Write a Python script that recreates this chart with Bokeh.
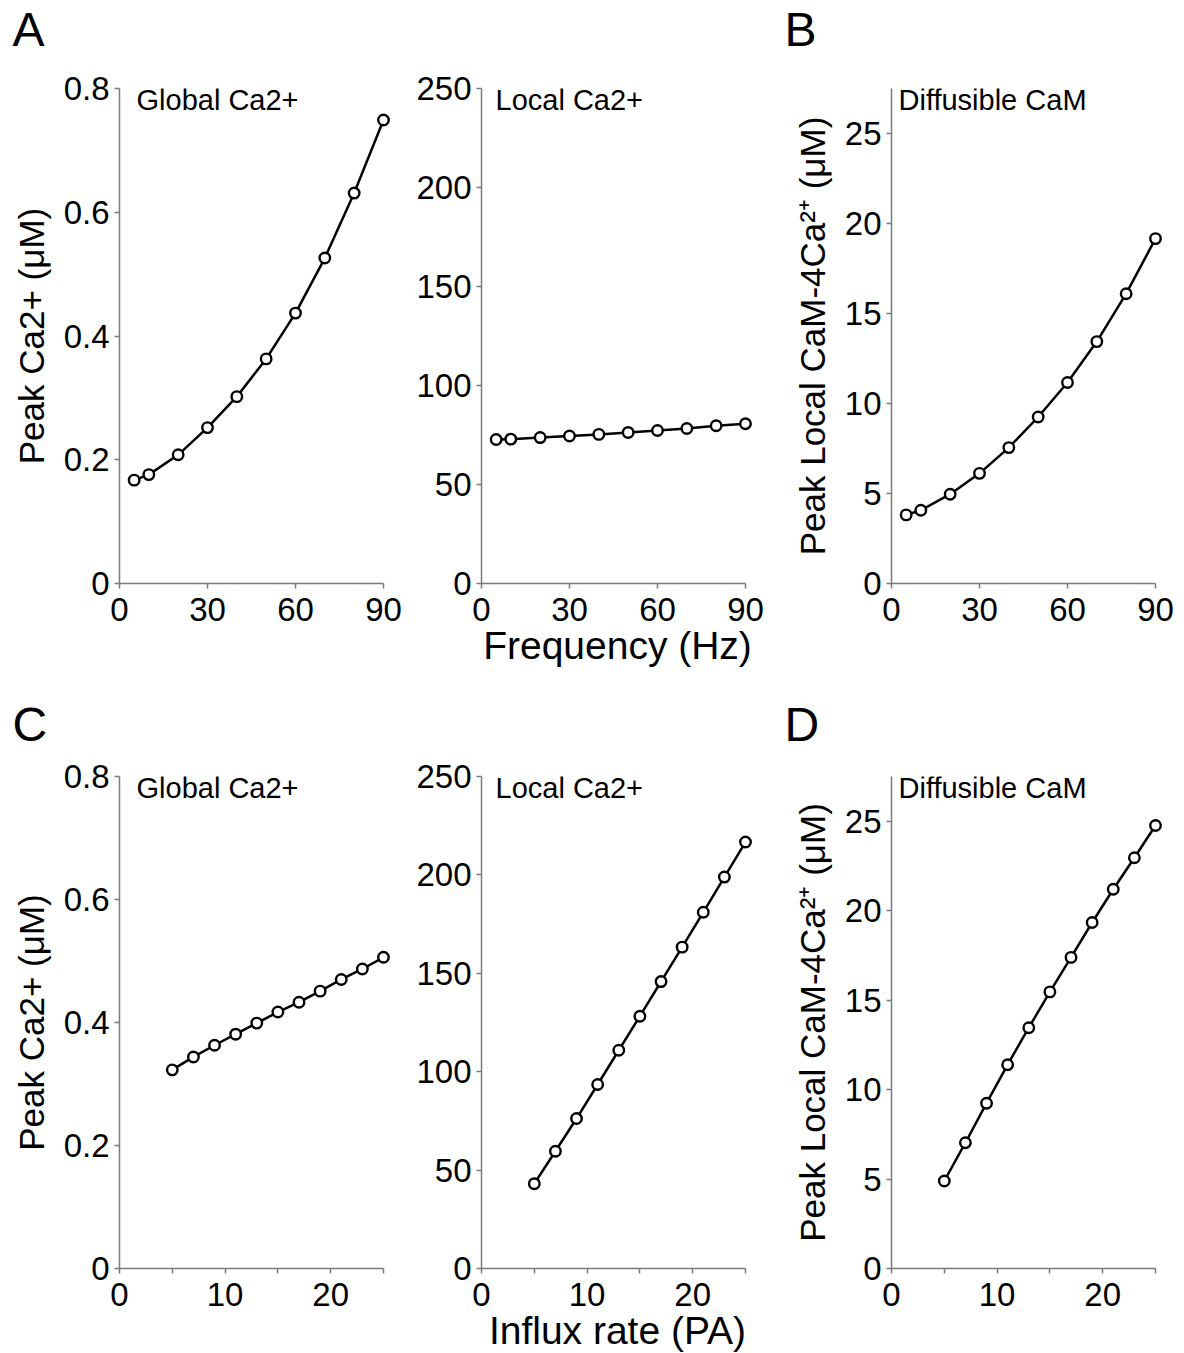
from bokeh.plotting import figure
from bokeh.layouts import gridplot
from bokeh.models import Range1d, FixedTicker, Label
from bokeh.embed import file_html
from bokeh.resources import INLINE

# ---------------- data ----------------
freq = [5, 10, 20, 30, 40, 50, 60, 70, 80, 90]
freq_global_ca = [0.167, 0.176, 0.208, 0.252, 0.302, 0.363, 0.437, 0.526, 0.631, 0.749]
freq_local_ca = [72.7, 72.9, 73.7, 74.5, 75.3, 76.3, 77.3, 78.3, 79.7, 80.7]
freq_cam = [3.81, 4.07, 4.96, 6.12, 7.55, 9.25, 11.17, 13.44, 16.1, 19.16]

influx = [5, 7, 9, 11, 13, 15, 17, 19, 21, 23, 25]
influx_global_ca = [0.323, 0.344, 0.363, 0.381, 0.399, 0.417, 0.433, 0.451, 0.470, 0.487, 0.506]
influx_local_ca = [43.1, 59.6, 76.2, 93.5, 110.9, 128.2, 145.8, 163.3, 181.0, 198.9, 216.7]
influx_cam = [4.89, 7.03, 9.24, 11.39, 13.46, 15.46, 17.39, 19.34, 21.2, 22.96, 24.76]

freq_ticks = [0, 30, 60, 90]
freq_tick_labels = ["0", "30", "60", "90"]
influx_ticks = [0, 5, 10, 15, 20, 25]
influx_tick_labels = ["0", "", "10", "", "20", ""]
global_ticks = [0, 0.2, 0.4, 0.6, 0.8]
global_tick_labels = ["0", "0.2", "0.4", "0.6", "0.8"]
local_ticks = [0, 50, 100, 150, 200, 250]
local_tick_labels = ["0", "50", "100", "150", "200", "250"]
cam_ticks = [0, 5, 10, 15, 20, 25]
cam_tick_labels = ["0", "5", "10", "15", "20", "25"]

global_ymax = 0.8
local_ymax = 250
cam_ymax = 27.5

ylabel_global = "Peak Ca2+ (\u03bcM)"
ylabel_cam = "Peak Local CaM-4Ca\u00b2\u207a (\u03bcM)"
xlabel_freq = "Frequency (Hz)"
xlabel_influx = "Influx rate (PA)"

FONT = "Liberation Sans"
AXIS_COLOR = "#7a7a7a"
FRAME_W = 272
AXIS_W = 264


def panel(x, y, xticks, xtlabels, xmax, yticks, ytlabels, ymax,
          xlabel, ylabel, title, letter, col, row):
    borders_lr = {0: (119, 14), 1: (76, 17), 2: (121, 21)}[col]
    if row == 0:
        fh, bt, bb = 495, 88, 100
        title_y, letter_y = 99, 29
    else:
        fh, bt, bb = 492, 93, 85
        title_y, letter_y = 104, 41
    p = figure(frame_width=FRAME_W, frame_height=fh,
               min_border_left=borders_lr[0], min_border_right=borders_lr[1],
               min_border_top=bt, min_border_bottom=bb,
               x_range=Range1d(0, xmax * FRAME_W / AXIS_W),
               y_range=Range1d(0, ymax),
               output_backend="svg", toolbar_location=None,
               background_fill_color="white", border_fill_color="white")
    p.outline_line_color = None
    p.xgrid.visible = False
    p.ygrid.visible = False

    p.xaxis.ticker = FixedTicker(ticks=xticks)
    p.xaxis.major_label_overrides = {t: l for t, l in zip(xticks, xtlabels)}
    p.xaxis.bounds = (0, xmax)
    p.yaxis.ticker = FixedTicker(ticks=yticks)
    p.yaxis.major_label_overrides = {t: l for t, l in zip(yticks, ytlabels)}

    for ax in (p.xaxis[0], p.yaxis[0]):
        ax.axis_line_color = AXIS_COLOR
        ax.axis_line_width = 1.5
        ax.major_tick_line_color = AXIS_COLOR
        ax.major_tick_line_width = 1.5
        ax.major_tick_out = 5
        ax.major_tick_in = 0
        ax.minor_tick_line_color = None
        ax.major_label_text_font = FONT
        ax.major_label_text_font_size = "33px"
        ax.major_label_text_color = "black"
        ax.axis_label_text_font = FONT
        ax.axis_label_text_font_style = "normal"
        ax.axis_label_text_color = "black"

    p.xaxis.major_label_standoff = 9
    p.yaxis.major_label_standoff = 5
    if xlabel:
        p.xaxis.axis_label = xlabel
        p.xaxis.axis_label_text_font_size = "39px"
        p.xaxis.axis_label_standoff = 0
    if ylabel:
        p.yaxis.axis_label = ylabel
        p.yaxis.axis_label_text_font_size = "35px"
        p.yaxis.axis_label_standoff = 10

    p.line(x, y, line_color="black", line_width=2.5)
    p.scatter(x, y, marker="circle", size=10.5, fill_color="white",
              line_color="black", line_width=2.4)

    title_x = {0: 136, 1: 90, 2: 128}[col]
    p.add_layout(Label(x=title_x, y=title_y, x_units="canvas", y_units="canvas",
                       text=title, text_font=FONT, text_font_size="29px",
                       text_color="black", text_baseline="alphabetic"))
    if letter:
        letter_x = {0: 12, 2: 14}[col]
        p.add_layout(Label(x=letter_x, y=letter_y, x_units="canvas", y_units="canvas",
                           text=letter, text_font=FONT, text_font_size="48px",
                           text_color="black", text_baseline="alphabetic"),
                     "above")
    return p


pA1 = panel(freq, freq_global_ca, freq_ticks, freq_tick_labels, 90,
            global_ticks, global_tick_labels, global_ymax,
            None, ylabel_global, "Global Ca2+", "A", 0, 0)
pA2 = panel(freq, freq_local_ca, freq_ticks, freq_tick_labels, 90,
            local_ticks, local_tick_labels, local_ymax,
            xlabel_freq, None, "Local Ca2+", None, 1, 0)
pB = panel(freq, freq_cam, freq_ticks, freq_tick_labels, 90,
           cam_ticks, cam_tick_labels, cam_ymax,
           None, ylabel_cam, "Diffusible CaM", "B", 2, 0)
pC1 = panel(influx, influx_global_ca, influx_ticks, influx_tick_labels, 25,
            global_ticks, global_tick_labels, global_ymax,
            None, ylabel_global, "Global Ca2+", "C", 0, 1)
pC2 = panel(influx, influx_local_ca, influx_ticks, influx_tick_labels, 25,
            local_ticks, local_tick_labels, local_ymax,
            xlabel_influx, None, "Local Ca2+", None, 1, 1)
pD = panel(influx, influx_cam, influx_ticks, influx_tick_labels, 25,
           cam_ticks, cam_tick_labels, cam_ymax,
           None, ylabel_cam, "Diffusible CaM", "D", 2, 1)

grid = gridplot([[pA1, pA2, pB], [pC1, pC2, pD]], toolbar_location=None)

open("out.html", "w").write(file_html(grid, INLINE))
